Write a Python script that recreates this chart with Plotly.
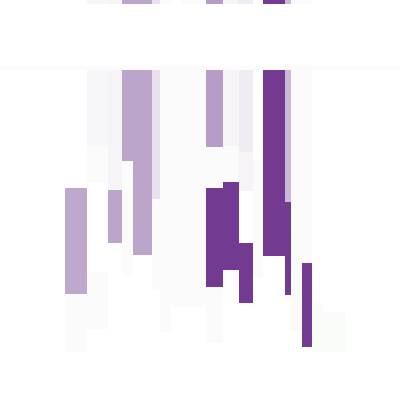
import plotly.graph_objects as go

# Column bin edges (data units along x)
x_edges = [0, 65, 87, 108, 122, 133, 152, 160, 171, 182, 190, 196, 206,
           223, 239, 253, 263, 285, 291, 302, 312, 323, 345, 400]

# Full-width band value (applies to every column)
band = (66, 70, 0.0)

# Per-column segments: (y_start, y_end, value); columns in order of x_edges
col_segments = [
    [],                                                        # 0-65
    [(188, 294, -0.40), (294, 352, 0.0)],                      # 65-87
    [(0, 4, -0.04), (70, 146, -0.04), (146, 183, 0.0), (272, 329, 0.0)],  # 87-108
    [(0, 4, -0.05), (70, 190, -0.05), (190, 243, -0.41)],      # 108-122
    [(0, 4, -0.41), (70, 161, -0.41), (161, 275, 0.0)],        # 122-133
    [(0, 4, -0.41), (70, 255, -0.41)],                         # 133-152
    [(0, 4, -0.19), (70, 199, -0.19), (199, 290, 0.0)],        # 152-160
    [(0, 4, 0.0), (70, 332, 0.0)],                             # 160-171
    [(70, 307, 0.0)],                                          # 171-182
    [(0, 4, 0.0), (70, 307, 0.0)],                             # 182-190
    [(0, 4, 0.0), (70, 307, 0.0)],                             # 190-196
    [(0, 4, 0.0), (70, 307, 0.0)],                             # 196-206
    [(0, 4, -0.44), (70, 147, -0.44), (147, 188, 0.01), (188, 287, -0.76), (287, 343, 0.01)],  # 206-223
    [(0, 4, -0.05), (70, 146, -0.05), (146, 182, 0.01), (182, 270, -0.76)],  # 223-239
    [(0, 4, -0.11), (70, 152, -0.11), (152, 191, -0.05), (243, 303, -0.76)],  # 239-253
    [(160, 277, 0.0)],                                         # 253-263
    [(0, 4, -0.76), (70, 256, -0.76)],                         # 263-285
    [(0, 4, -0.34), (70, 202, -0.34), (202, 295, -0.76)],      # 285-291
    [(0, 4, 0.0), (70, 231, 0.0), (231, 331, 0.02)],           # 291-302
    [(0, 4, 0.0), (70, 263, 0.0), (263, 347, -0.76)],          # 302-312
    [(303, 352, 0.03)],                                        # 312-323
    [(312, 352, 0.03)],                                        # 323-345
    [],                                                        # 345-400
]

# Diverging purple-green colour scale
colorscale = [
    [0.00, "rgb(64,0,75)"],
    [0.12, "rgb(115,58,145)"],
    [0.30, "rgb(190,168,205)"],
    [0.40, "rgb(233,224,239)"],
    [0.50, "rgb(251,251,251)"],
    [0.60, "rgb(235,250,233)"],
    [1.00, "rgb(0,68,27)"],
]

# Build row edges and z matrix from the segments
ys = {0, 400, band[0], band[1]}
for segs in col_segments:
    for a, b, _ in segs:
        ys.add(a)
        ys.add(b)
y_edges = sorted(ys)

z = []
for i in range(len(y_edges) - 1):
    y0, y1 = y_edges[i], y_edges[i + 1]
    row = []
    for segs in col_segments:
        v = None
        if y0 >= band[0] and y1 <= band[1]:
            v = band[2]
        for a, b, val in segs:
            if y0 >= a and y1 <= b:
                v = val
        row.append(v)
    z.append(row)

fig = go.Figure(go.Heatmap(
    x=x_edges, y=y_edges, z=z,
    colorscale=colorscale, zmin=-1, zmax=1,
    showscale=False, hoverongaps=False,
))
fig.update_layout(
    width=400, height=400,
    margin=dict(l=0, r=0, t=0, b=0),
    paper_bgcolor="white", plot_bgcolor="white",
    xaxis=dict(range=[0, 400], visible=False),
    yaxis=dict(range=[400, 0], visible=False),
)
fig.write_html("out.html")
